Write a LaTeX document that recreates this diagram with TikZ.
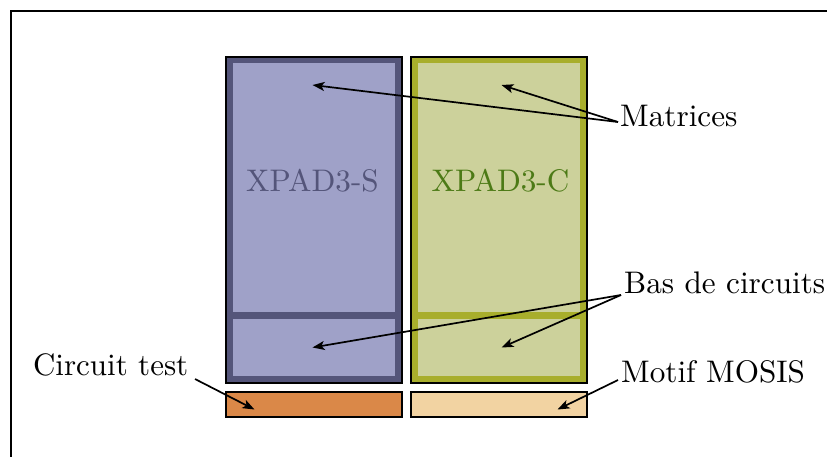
\documentclass[tikz,border=0pt]{standalone}
\usepackage{graphicx}
\usetikzlibrary{arrows.meta}
\definecolor{sband}{HTML}{54557A}
\definecolor{sfill}{HTML}{9FA1C8}
\definecolor{cband}{HTML}{A8AE2C}
\definecolor{cfill}{HTML}{CCD19B}
\definecolor{ctext}{HTML}{4C7A16}
\definecolor{testfill}{HTML}{DA8848}
\definecolor{mosisfill}{HTML}{F2D3A2}
\newcommand{\bigtxt}[1]{\scalebox{3.12}{#1}}
\tikzset{
  outline/.style={draw=black,line width=2pt},
  band/.style={line width=7pt},
  lab/.style={inner sep=0pt,text=black},
  smallbox/.style={outline,minimum width=175.5pt,minimum height=24.5pt,inner sep=0pt,outer sep=0pt,anchor=north west},
  pointer/.style={draw=black,line width=1.7pt,-{Stealth[length=12pt,width=9pt,inset=3pt]}}
}
\begin{document}
\begin{tikzpicture}[x=1pt,y=-1pt]
\useasboundingbox (0,0) rectangle (827,456);
\clip (0,0) rectangle (827,456);
\draw[line width=2pt] (10.5,11) rectangle (860,490);
% left block
\fill[sfill] (226,56.5) rectangle (401.5,382.5);
\draw[sband,band] (229,59.5) rectangle (398.5,379.5);
\draw[sband,line width=7.2pt] (229,315.5) -- (398.5,315.5);
\draw[outline] (226,56.5) rectangle (401.5,382.5);
% right block
\fill[cfill] (411,56.5) rectangle (586.5,382.5);
\draw[cband,band] (414,59.5) rectangle (583.5,379.5);
\draw[cband,line width=7.2pt] (414,315.5) -- (583.5,315.5);
\draw[outline] (411,56.5) rectangle (586.5,382.5);
% small boxes
\node[smallbox,fill=testfill] (test) at (226,392) {};
\node[smallbox,fill=mosisfill] (mosis) at (411,392) {};
% block names
\node[lab,text=sband] (xs) at (312.5,181) {\bigtxt{XPAD3-S}};
\node[lab,text=ctext] (xc) at (500.5,181) {\bigtxt{XPAD3-C}};
% labels
\node[lab,anchor=base west] (mat) at (620,126) {\bigtxt{Matrices}};
\node[lab,anchor=base west] (bas) at (624,293) {\bigtxt{Bas de circuits}};
\node[lab,anchor=base east] (ct) at (188.5,375.5) {\scalebox{3.1}{Circuit test}};
\node[lab,anchor=base west] (mm) at (621,382.5) {\bigtxt{Motif MOSIS}};
% targets
\coordinate (m1) at (312.5,85);
\coordinate (m2) at (501.5,85);
\coordinate (b1) at (312.5,347.5);
\coordinate (b2) at (501.5,347.5);
\coordinate (t1) at (254.5,409.5);
\coordinate (t2) at (557.5,409.5);
\coordinate (mfrom) at (618,122);
\coordinate (bfrom) at (621,295);
\coordinate (cfrom) at (195,379);
\coordinate (mmfrom) at (618,380);
\draw[pointer] (mfrom) -- (m1);
\draw[pointer] (mfrom) -- (m2);
\draw[pointer] (bfrom) -- (b1);
\draw[pointer] (bfrom) -- (b2);
\draw[pointer] (cfrom) -- (t1);
\draw[pointer] (mmfrom) -- (t2);
\end{tikzpicture}
\end{document}
